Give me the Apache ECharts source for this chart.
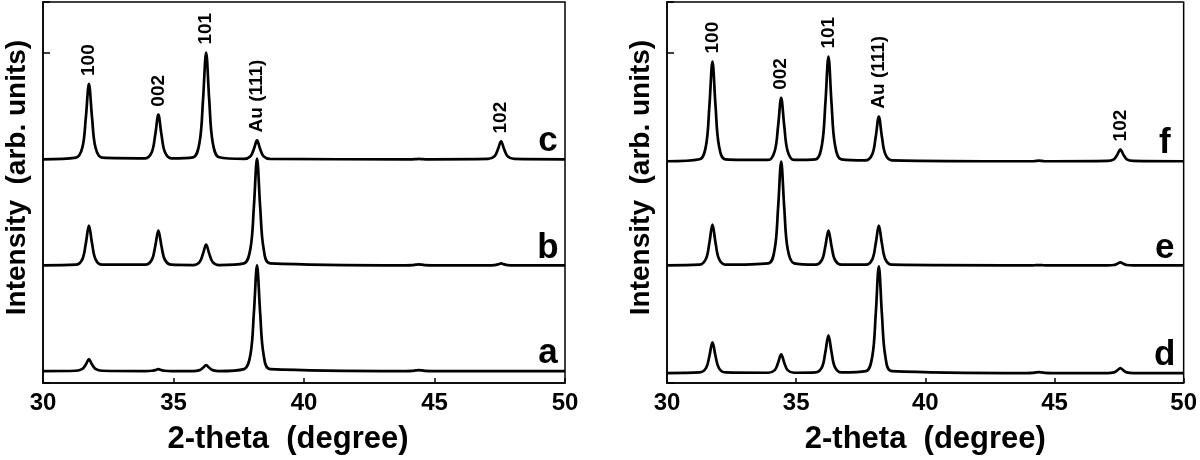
<!DOCTYPE html>
<html>
<head>
<meta charset="utf-8">
<script src="https://cdn.jsdelivr.net/npm/echarts@6/dist/echarts.min.js"></script>
<style>
  html, body { margin: 0; padding: 0; background: #fff; }
  #xrd { width: 1200px; height: 460px; }
</style>
</head>
<body>
<div id="xrd"></div>
<script>
// 2-theta sample points (degree)
var twoTheta = [30,
  31.26, 31.51, 31.64, 31.76, 31.88, 32.01, 32.26,
  33.92, 34.17, 34.30, 34.42, 34.54, 34.67, 34.92,
  35.75, 36.00, 36.13, 36.25, 36.37, 36.50, 36.75,
  37.70, 37.95, 38.08, 38.20, 38.32, 38.45, 38.70,
  43.90, 44.15, 44.28, 44.40, 44.52, 44.65, 44.90,
  47.05, 47.30, 47.43, 47.55, 47.67, 47.80, 48.05,
  50];

// intensities above each pattern's own baseline (arb. units)
var curveA = [0,
  0.1, 0.7, 2.0, 3.6, 2.0, 0.7, 0.1,
  0, 0.1, 0.3, 0.6, 0.3, 0.1, 0,
  0, 0.3, 1.0, 1.8, 1.0, 0.3, 0,
  0.6, 5.1, 17.6, 32.0, 17.6, 5.1, 0.6,
  0, 0.05, 0.2, 0.3, 0.2, 0.05, 0,
  0, 0, 0, 0, 0, 0, 0,
  0];
var curveB = [0,
  0.2, 1.9, 6.6, 12.0, 6.6, 1.9, 0.2,
  0.2, 1.7, 5.8, 10.5, 5.8, 1.7, 0.2,
  0.1, 1.0, 3.5, 6.3, 3.5, 1.0, 0.1,
  0.6, 5.2, 17.8, 32.3, 17.8, 5.2, 0.6,
  0, 0.05, 0.2, 0.3, 0.2, 0.05, 0,
  0, 0.1, 0.3, 0.6, 0.3, 0.1, 0,
  0];
var curveC = [0,
  0.5, 3.6, 12.5, 22.8, 12.5, 3.6, 0.5,
  0.3, 2.2, 7.4, 13.5, 7.4, 2.2, 0.3,
  0.6, 5.2, 17.8, 32.3, 17.8, 5.2, 0.6,
  0.1, 0.9, 3.1, 5.7, 3.1, 0.9, 0.1,
  0, 0, 0.05, 0.1, 0.05, 0, 0,
  0.1, 0.9, 3.0, 5.4, 3.0, 0.9, 0.1,
  0];
var curveD = [0,
  0.2, 1.5, 5.1, 9.3, 5.1, 1.5, 0.2,
  0.1, 0.9, 3.1, 5.7, 3.1, 0.9, 0.1,
  0.2, 1.8, 6.3, 11.4, 6.3, 1.8, 0.2,
  0.6, 5.2, 17.8, 32.3, 17.8, 5.2, 0.6,
  0, 0.05, 0.2, 0.3, 0.2, 0.05, 0,
  0, 0.2, 0.8, 1.5, 0.8, 0.2, 0,
  0];
var curveE = [0,
  0.2, 2.0, 6.8, 12.3, 6.8, 2.0, 0.2,
  0.6, 5.0, 17.3, 31.4, 17.3, 5.0, 0.6,
  0.2, 1.7, 5.8, 10.5, 5.8, 1.7, 0.2,
  0.2, 1.9, 6.6, 12.0, 6.6, 1.9, 0.2,
  0, 0, 0.05, 0.1, 0.05, 0, 0,
  0, 0.1, 0.5, 0.9, 0.5, 0.1, 0,
  0];
var curveF = [0,
  0.6, 4.8, 16.6, 30.2, 16.6, 4.8, 0.6,
  0.4, 3.1, 10.6, 19.2, 10.6, 3.1, 0.4,
  0.6, 5.1, 17.4, 31.7, 17.4, 5.1, 0.6,
  0.3, 2.2, 7.4, 13.5, 7.4, 2.2, 0.3,
  0, 0, 0.1, 0.2, 0.1, 0, 0,
  0.1, 0.6, 2.0, 3.6, 2.0, 0.6, 0.1,
  0];

// vertical offsets of the stacked patterns
var offsetsLeft = [3.6, 35.6, 67.7];   // a, b, c
var offsetsRight = [3.0, 35.6, 67.1];  // d, e, f
var tagsLeft = ['a', 'b', 'c'];
var tagsRight = ['d', 'e', 'f'];
var tagPos = [49.35, 49.27];

// peak labels above the top pattern
var peakNames = ['100', '002', '101', 'Au (111)', '102'];
var peakPos = [31.76, 34.42, 36.25, 38.20, 47.55];
var peakIdx = [4, 11, 18, 25, 39];

var FONT = '"Liberation Sans", Arial, sans-serif';

function pairs(vals, off) {
  return twoTheta.map(function (t, i) { return [t, vals[i] + off]; });
}

function lineSeries(vals, off, gi) {
  return {
    type: 'line', xAxisIndex: gi, yAxisIndex: gi,
    data: pairs(vals, off),
    smooth: 0.35, showSymbol: false, symbol: 'none',
    lineStyle: { color: '#000', width: 2.7 },
    silent: true, z: 3
  };
}

function peakSeries(top, off, gi) {
  var d = peakNames.map(function (n, i) {
    return { value: [peakPos[i], top[peakIdx[i]] + off], name: n };
  });
  return {
    type: 'scatter', xAxisIndex: gi, yAxisIndex: gi, data: d,
    symbolSize: 0, silent: true,
    itemStyle: { opacity: 1 },
    label: {
      show: true, position: 'top', distance: 8, rotate: 90,
      align: 'left', verticalAlign: 'middle',
      formatter: function (p) { return p.name; },
      fontFamily: FONT, fontSize: 19, fontWeight: 'bold', color: '#000', opacity: 1
    }
  };
}

function tagSeries(tags, offs, x, gi) {
  return {
    type: 'scatter', xAxisIndex: gi, yAxisIndex: gi,
    data: tags.map(function (t, i) { return { value: [x, offs[i]], name: t }; }),
    symbolSize: 0, silent: true,
    itemStyle: { opacity: 1 },
    label: {
      show: true, position: 'top', distance: 0,
      formatter: function (p) { return p.name; },
      fontFamily: FONT, fontSize: 35, fontWeight: 'bold', color: '#000', opacity: 1
    }
  };
}

function xAx(gi, pad) {
  return {
    gridIndex: gi, type: 'value', min: 30, max: 50, interval: 5,
    axisLine: { lineStyle: { color: '#000', width: 1.5 } },
    axisTick: { inside: true, length: 5, lineStyle: { color: '#000', width: 1.5 } },
    axisLabel: { color: '#000', fontFamily: FONT, fontSize: 24, fontWeight: 'bold', margin: 8 },
    splitLine: { show: false },
    name: '2-theta  (degree)', nameLocation: 'middle', nameGap: 41,
    nameTextStyle: {
      color: '#000', fontFamily: FONT, fontSize: 31, fontWeight: 'bold',
      padding: [0, pad, 0, 0]
    }
  };
}

function yAx(gi) {
  return {
    gridIndex: gi, type: 'value', min: 0, max: 115.3, interval: 100,
    axisLine: { show: true, lineStyle: { color: '#000', width: 1.5 } },
    axisTick: { inside: true, length: 7, lineStyle: { color: '#000', width: 1.5 } },
    axisLabel: { show: false },
    splitLine: { show: false },
    name: 'Intensity  (arb. units)', nameLocation: 'middle', nameGap: 12,
    nameTextStyle: {
      color: '#000', fontFamily: FONT, fontSize: 28, fontWeight: 'bold',
      padding: [0, 0, 0, 30]
    }
  };
}

var chart = echarts.init(document.getElementById('xrd'));
var option = {
  animation: false,
  backgroundColor: '#fff',
  grid: [
    { left: 43, top: 2, width: 522, height: 385, show: true, borderColor: '#000', borderWidth: 1.5 },
    { left: 667, top: 2, width: 519, height: 385, show: true, borderColor: '#000', borderWidth: 1.5 }
  ],
  xAxis: [xAx(0, 32), xAx(1, 0)],
  yAxis: [yAx(0), yAx(1)],
  series: [
    lineSeries(curveA, offsetsLeft[0], 0),
    lineSeries(curveB, offsetsLeft[1], 0),
    lineSeries(curveC, offsetsLeft[2], 0),
    lineSeries(curveD, offsetsRight[0], 1),
    lineSeries(curveE, offsetsRight[1], 1),
    lineSeries(curveF, offsetsRight[2], 1),
    peakSeries(curveC, offsetsLeft[2], 0),
    peakSeries(curveF, offsetsRight[2], 1),
    tagSeries(tagsLeft, offsetsLeft, tagPos[0], 0),
    tagSeries(tagsRight, offsetsRight, tagPos[1], 1)
  ]
};
chart.setOption(option);
window.addEventListener('resize', function () { chart.resize(); });
</script>
</body>
</html>
